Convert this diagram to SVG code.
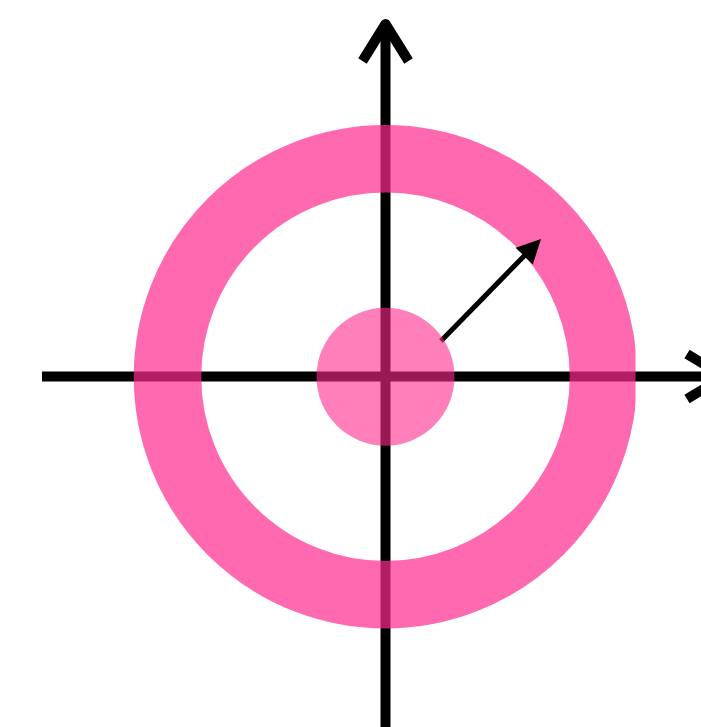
<svg xmlns="http://www.w3.org/2000/svg" width="701" height="727" viewBox="0 0 701 727">
  <defs>
    <style>
      .axis { stroke: #000; stroke-width: 10; fill: none; }
      .head { stroke: #000; stroke-width: 10; fill: none; stroke-linejoin: round; stroke-linecap: butt; }
      .disk { fill: #FF298E; }
    </style>
    <clipPath id="clipR">
      <rect x="0" y="0" width="635.5" height="727"/>
    </clipPath>
  </defs>
  <rect width="701" height="727" fill="#ffffff"/>
  <g id="connectors">
    <g id="x-axis">
      <line class="axis" x1="42" y1="376.5" x2="722" y2="376.5"/>
      <polyline class="head" points="687,354 724,376.5 687,399"/>
    </g>
    <g id="y-axis">
      <line class="axis" x1="385.5" y1="727" x2="385.5" y2="26"/>
      <polyline class="head" points="362.5,61 385.5,24 408.5,61"/>
    </g>
  </g>
  <g id="ring" clip-path="url(#clipR)">
    <circle cx="385.5" cy="376.75" r="218" fill="none" stroke="#FF298E" stroke-width="67.5" stroke-opacity="0.7"/>
  </g>
  <g id="radius-arrow">
    <line x1="441" y1="341" x2="527" y2="253" stroke="#000" stroke-width="5"/>
    <polygon points="541,239 532.8,264.5 515.6,247.7" fill="#000"/>
  </g>
  <g id="center">
    <circle class="disk" cx="385.5" cy="376.75" r="69" fill-opacity="0.6"/>
  </g>
</svg>
